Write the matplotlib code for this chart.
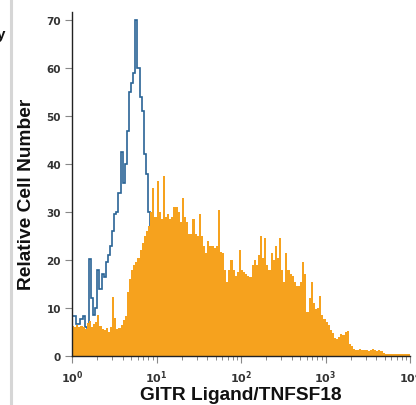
import numpy as np
import matplotlib
matplotlib.use("Agg")
import matplotlib.pyplot as plt
from matplotlib.lines import Line2D
from matplotlib.ticker import LogLocator, FixedLocator

# ---- data (relative cell number per log-channel, 160 channels over 10^0..10^4)
n_bins = 160
x_min_exp, x_max_exp = 0, 4

orange_values = [
    6.3, 6.1, 6.4, 6.0, 6.3, 6.1, 5.6, 6.8, 7.3, 6.0,
    6.6, 7.0, 8.6, 6.2, 5.6, 5.4, 5.8, 5.1, 6.0, 12.3,
    8.0, 5.6, 5.8, 6.5, 7.5, 8.3, 13.3, 16.0, 18.0, 19.0,
    19.6, 20.5, 22.0, 23.5, 25.0, 26.0, 27.0, 30.0, 35.0, 29.0,
    36.5, 30.0, 28.5, 37.5, 29.0, 29.5, 28.5, 29.0, 31.0, 31.0,
    30.0, 28.0, 33.0, 29.0, 28.0, 25.5, 25.5, 28.5, 25.5, 25.0,
    29.5, 25.0, 23.0, 21.5, 24.0, 23.0, 23.0, 22.5, 23.0, 30.5,
    21.7, 21.5, 18.0, 15.4, 18.0, 20.0, 18.0, 16.6, 17.5, 22.0,
    18.0, 17.5, 17.0, 16.7, 16.5, 19.0, 20.0, 19.0, 21.0, 25.0,
    20.4, 24.5, 19.0, 18.0, 21.5, 20.0, 23.0, 20.5, 24.5, 18.0,
    15.4, 21.5, 18.0, 17.0, 16.6, 15.5, 14.6, 14.6, 15.5, 19.6,
    17.0, 9.2, 12.0, 15.4, 11.0, 9.8, 10.0, 12.5, 8.5, 7.7,
    7.0, 6.5, 5.5, 4.8, 3.8, 3.5, 4.0, 4.6, 4.4, 5.0,
    5.2, 2.5, 2.0, 1.5, 1.3, 1.3, 1.4, 1.2, 1.3, 1.2,
    1.1, 1.2, 1.4, 1.2, 1.0, 1.3, 1.1, 0.6, 0.4, 0.4,
    0.4, 0.4, 0.4, 0.4, 0.4, 0.4, 0.4, 0.4, 0.4, 0.4,
]

blue_values = [
    8.3, 8.3, 6.7, 6.7, 7.8, 8.3, 6.0, 5.8, 20.2, 12.0,
    8.5, 10.0, 18.0, 14.0, 17.0, 16.5, 19.6, 21.0, 23.0, 26.0,
    29.5, 30.0, 34.0, 42.5, 36.0, 40.0, 47.0, 55.0, 57.0, 59.0,
    70.0, 60.0, 54.0, 51.0, 42.0, 38.0, 30.0, 24.0,
]

y_ticks = [0, 10, 20, 30, 40, 50, 60, 70]
x_ticks = [1, 10, 100, 1000, 10000]
x_tick_labels = [r"$\mathbf{10^{0}}$", r"$\mathbf{10^{1}}$", r"$\mathbf{10^{2}}$",
                 r"$\mathbf{10^{3}}$", r"$\mathbf{10^{4}}$"]
x_label = "GITR Ligand/TNFSF18"
y_label = "Relative Cell Number"

orange_color = "#f6a21e"
blue_color = "#2a6496"

# ---- figure
W, H = 416, 406
fig = plt.figure(figsize=(W / 100, H / 100), dpi=100)

# panel divider on the left (drawn first, behind everything)
fig.add_artist(Line2D([11 / W, 11 / W], [0, 1], transform=fig.transFigure,
                      color="#d6d6d6", linewidth=2.2, zorder=0))

ax = fig.add_axes([72 / W, 1 - 357 / H, (410 - 72) / W, (357 - 13) / H])

edges = np.logspace(x_min_exp, x_max_exp, n_bins + 1)
ax.stairs(blue_values, edges[:len(blue_values) + 1], color=blue_color,
          linewidth=1.2, zorder=2)
ax.stairs(orange_values, edges, fill=True, color=orange_color, linewidth=0,
          zorder=3)

ax.set_xscale("log")
ax.set_xlim(1, 10000)
ax.set_ylim(0, 71.7)

for s in ("top", "right"):
    ax.spines[s].set_visible(False)
for s in ("left", "bottom"):
    ax.spines[s].set_color("#222222")
    ax.spines[s].set_linewidth(1.0)
    ax.spines[s].set_zorder(5)

ax.set_yticks(y_ticks)
ax.set_yticklabels([str(v) for v in y_ticks], fontweight="bold",
                   fontsize=7.5, color="#333333")
ax.xaxis.set_major_locator(FixedLocator(x_ticks))
ax.set_xticklabels(x_tick_labels, fontsize=8, color="#333333")
ax.xaxis.set_minor_locator(LogLocator(base=10, subs=np.arange(2, 10)))
ax.xaxis.set_minor_formatter(plt.NullFormatter())

ax.tick_params(axis="y", direction="out", length=5, width=0.8,
               color="#888888", pad=3)
ax.tick_params(axis="x", which="major", direction="out", length=5,
               width=0.8, color="#888888", pad=4)
ax.tick_params(axis="x", which="minor", direction="out", length=3,
               width=0.7, color="#888888")

ax.set_xlabel(x_label, fontsize=13.8, fontweight="bold", color="#111111",
              family="Liberation Sans", labelpad=1)
ax.set_ylabel(y_label, fontsize=13.8, fontweight="bold", color="#111111",
              family="Liberation Sans")
ax.yaxis.set_label_coords(-0.108, 0.474)

# clipped neighbouring text at the top-left edge
fig.text(-0.008, 0.905, "y", fontsize=11, fontweight="bold",
         family="Liberation Sans", color="#111111")

fig.savefig("out.png", dpi=100)
